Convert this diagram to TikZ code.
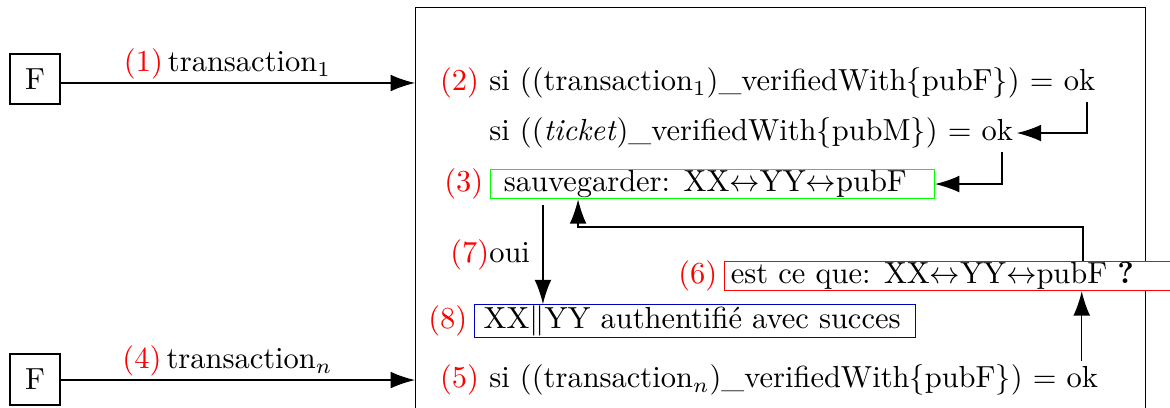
\documentclass[tikz,border=0pt]{standalone}
\usepackage{fontspec}
\usepackage{tikz}
\usetikzlibrary{arrows.meta}
\usepackage{xcolor}

\begin{document}
\begin{tikzpicture}[
	% Style for the two sender boxes
	sender/.style={
		draw,
		line width=0.6pt,
		minimum size=0.58cm,
		inner sep=0pt
	},
	% Style for the plain text lines inside the big box
	txtline/.style={
		anchor=west,
		inner sep=1pt
	},
	% Style for the framed lines
	framed/.style={
		draw,
		fill=white,
		anchor=west,
		inner xsep=1pt,
		inner ysep=0.3pt
	},
	% Style for the red step numbers
	stepnum/.style={
		text=red,
		inner sep=1pt
	},
	% Style for the arrows
	flow/.style={
		line width=0.5pt,
		-{Latex[length=8pt,width=5.5pt]}
	}
	]
	\useasboundingbox (0,0) rectangle (13.49,4.693);
	
	% 1. Senders and the receiving box
	\node[sender] (F1) at (0.404, 3.782) {F};
	\node[sender] (Fn) at (0.404, 0.317) {F};
	\node[draw, anchor=north west, minimum width=8.415cm, minimum height=4.95cm] (Box) at (4.785, 4.612) {};
	
	% 2. Lines inside the box
	\node[txtline, label={[stepnum, label distance=1pt]left:(2)}] (L2) at (5.60, 3.736)
		{si ((transaction$_1$)\_verifiedWith$\{$pubF$\}$) $=$ ok};
	\node[txtline] (Lt) at (5.60, 3.159)
		{si ((\textit{ticket})\_verifiedWith$\{$pubM$\}$) $=$ ok};
	\node[framed, draw=green, label={[stepnum, label distance=1pt]left:(3)}] (L3) at (5.650, 2.571)
		{\ sauvegarder: XX$\leftrightarrow$YY$\leftrightarrow$pubF\hspace*{8pt}\mbox{}};
	\node[txtline] (oui) at (5.15, 1.753) {\textcolor{red}{(7)}oui};
	\node[framed, inner xsep=2pt, draw=red, label={[stepnum, label distance=1pt]left:(6)}] (L6) at (8.348, 1.510)
		{est ce que: XX$\leftrightarrow$YY$\leftrightarrow$pubF \textbf{?}\hspace*{1cm}\mbox{}};
	\node[framed, inner xsep=3pt, draw=blue!75!black, label={[stepnum, label distance=1pt]left:(8)}] (L8) at (5.465, 0.992)
		{XX$\|$YY authentifié avec succes\hspace*{2pt}\mbox{}};
	\node[txtline, label={[stepnum, label distance=1pt]left:(5)}] (L5) at (5.60, 0.311)
		{si ((transaction$_n$)\_verifiedWith$\{$pubF$\}$) $=$ ok};
	
	% 3. Incoming transactions
	\draw[flow] (F1.east |- L2.west) -- node[above, inner sep=1pt, pos=0.47] {\textcolor{red}{(1)}\,transaction$_1$} (Box.west |- L2.west);
	\draw[flow] (Fn.east |- L5.west) -- node[above, inner sep=1pt, pos=0.47] {\textcolor{red}{(4)}\,transaction$_n$} (Box.west |- L5.west);
	
	% 4. Checks and saving
	\draw[flow] ([xshift=-0.138cm]L2.south east) |- (Lt.east);
	\draw[flow] ([xshift=-0.17cm]Lt.south east) |- (L3.east);
	\coordinate (d) at ([xshift=0.61cm, yshift=-2pt]L3.south west);
	\draw[flow] (d) -- (d |- L8.north);
	\draw[flow] ([xshift=4.14cm]L6.north west) -- ++(0,0.39) -| ([xshift=1.015cm]L3.south west);
	\coordinate (u) at ([xshift=-0.23cm]L5.north east);
	\draw[flow] (u) -- (u |- L6.south);
	
\end{tikzpicture}
\end{document}
